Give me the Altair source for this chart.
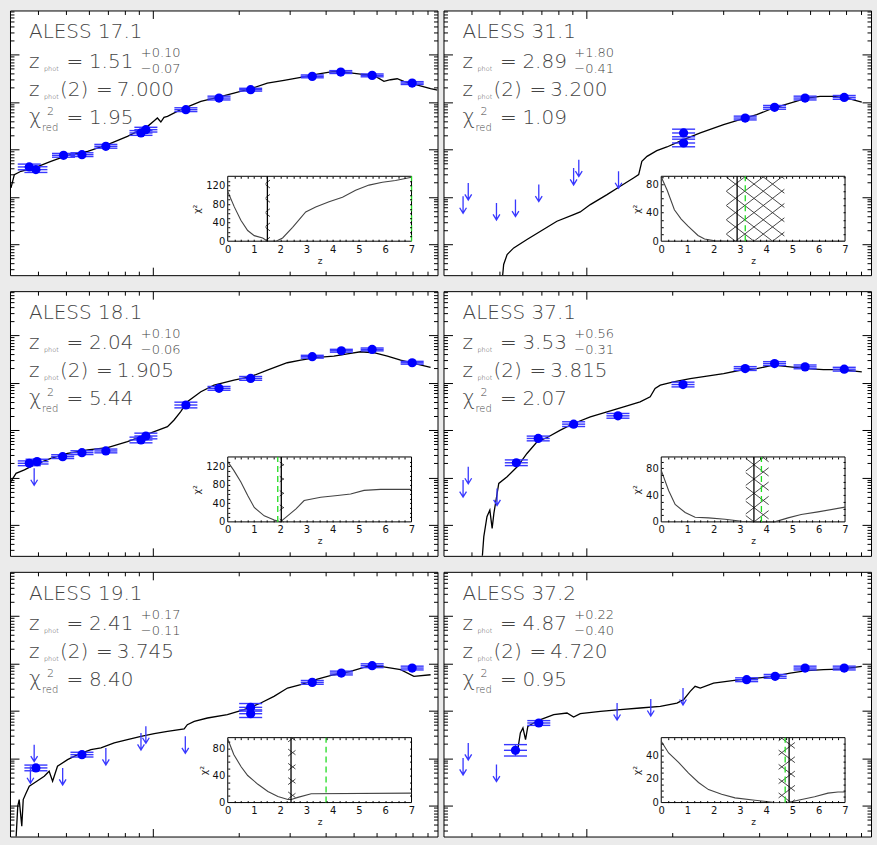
import altair as alt
import numpy as np
import pandas as pd

# ------------------------------------------------------------------ values
# x: log10(observed wavelength / micron), y: log10(flux density / microJy)
names = ["ALESS 17.1", "ALESS 31.1", "ALESS 18.1", "ALESS 37.1", "ALESS 19.1", "ALESS 37.2"]
zphot = [1.51, 2.89, 2.04, 3.53, 2.41, 4.87]
zphot_hi = [0.10, 1.80, 0.10, 0.56, 0.17, 0.22]
zphot_lo = [0.07, 0.41, 0.06, 0.31, 0.11, 0.40]
zphot2 = [7.000, 3.200, 1.905, 3.815, 3.745, 4.720]
chi2_red = [1.95, 1.09, 5.44, 2.07, 8.40, 0.95]
chi2_max = [140, 91, 140, 97, 96, 55]
chi2_ticks = [[0, 40, 80, 120], [0, 40, 80], [0, 40, 80, 120], [0, 40, 80], [0, 40, 80], [0, 20, 40]]

# ---- ALESS 17.1
det_lam_17_1 = [-0.428, -0.405, -0.309, -0.245, -0.162, -0.040, -0.023, 0.116, 0.231, 0.341, 0.555, 0.654, 0.763, 0.902]
det_flux_17_1 = [-0.368, -0.424, -0.123, -0.109, 0.067, 0.348, 0.418, 0.839, 1.084, 1.260, 1.541, 1.632, 1.562, 1.400]
det_err_17_1 = [0.06, 0.06, 0.04, 0.04, 0.04, 0.05, 0.05, 0.04, 0.04, 0.03, 0.03, 0.03, 0.03, 0.03]
lim_lam_17_1 = []
lim_flux_17_1 = []
sed_lam_17_1 = [-0.4915, -0.480, -0.457, -0.410, -0.353, -0.295, -0.225, -0.156, -0.087, -0.040, -0.017, 0.006, 0.017, 0.029,
                0.040, 0.052, 0.098, 0.168, 0.226, 0.283, 0.341, 0.399, 0.457, 0.515, 0.573, 0.630, 0.665, 0.723, 0.769,
                0.804, 0.827, 0.850, 0.873, 0.908, 0.966, 0.99]
sed_flux_17_1 = [-0.810, -0.530, -0.459, -0.389, -0.249, -0.123, -0.038, 0.102, 0.277, 0.418, 0.488, 0.607, 0.663, 0.579,
                 0.677, 0.698, 0.839, 1.014, 1.098, 1.190, 1.281, 1.400, 1.456, 1.520, 1.590, 1.646, 1.632, 1.590, 1.562,
                 1.435, 1.470, 1.491, 1.435, 1.379, 1.281, 1.250]
chi_z_17_1 = [0, 0.25, 0.5, 0.76, 1.01, 1.33, 1.52, 1.84, 2.09, 2.47, 2.97, 3.35, 3.86, 4.37, 4.87, 5.38, 5.89, 6.39, 7.0]
chi_v_17_1 = [107, 74, 45, 23, 12, 7, 0, 0, 7, 30, 63, 74, 85, 95, 110, 121, 127, 131, 138]

# ---- ALESS 31.1
det_lam_31_1 = [0.339, 0.339, 0.553, 0.655, 0.761, 0.897]
det_flux_31_1 = [0.348, 0.137, 0.663, 0.888, 1.084, 1.098]
det_err_31_1 = [0.08, 0.08, 0.04, 0.04, 0.04, 0.04]
lim_lam_31_1 = [-0.427, -0.409, -0.311, -0.245, -0.164, -0.043, -0.025, 0.113]
lim_flux_31_1 = [-0.986, -0.705, -1.126, -1.056, -0.740, -0.389, -0.214, -0.459]
sed_lam_31_1 = [-0.291, -0.286, -0.274, -0.251, -0.205, -0.158, -0.101, -0.043, -0.020, 0.015, 0.073, 0.119, 0.165,
                0.183, 0.194, 0.212, 0.246, 0.281, 0.339, 0.397, 0.478, 0.535, 0.593, 0.651, 0.709, 0.767, 0.813,
                0.859, 0.906, 0.958]
sed_flux_31_1 = [-2.75, -2.424, -2.214, -2.074, -1.898, -1.723, -1.512, -1.372, -1.316, -1.161, -0.951, -0.775, -0.600,
                 -0.530, -0.249, -0.144, -0.024, 0.053, 0.207, 0.348, 0.523, 0.628, 0.733, 0.874, 0.979, 1.084, 1.119,
                 1.119, 1.084, 1.000]
chi_z_31_1 = [0, 0.23, 0.5, 0.76, 1.02, 1.4, 1.65, 2.04, 2.5, 3.0, 4.0, 5.0, 6.0, 7.0]
chi_v_31_1 = [90, 71, 44, 31, 21, 8, 3, 0.5, 0, 0, 0, 0, 0, 0]

# ---- ALESS 18.1
det_lam_18_1 = [-0.428, -0.401, -0.312, -0.245, -0.162, -0.040, -0.023, 0.116, 0.231, 0.341, 0.555, 0.656, 0.763, 0.902]
det_flux_18_1 = [-0.698, -0.663, -0.558, -0.474, -0.438, -0.207, -0.123, 0.530, 0.881, 1.091, 1.548, 1.674, 1.702, 1.421]
det_err_18_1 = [0.05, 0.05, 0.04, 0.04, 0.04, 0.06, 0.06, 0.06, 0.04, 0.04, 0.03, 0.03, 0.03, 0.03]
lim_lam_18_1 = [-0.411]
lim_flux_18_1 = [-0.803]
sed_lam_18_1 = [-0.492, -0.474, -0.445, -0.411, -0.353, -0.295, -0.225, -0.156, -0.087, -0.040, 0.006, 0.052, 0.075,
                0.098, 0.121, 0.168, 0.214, 0.283, 0.341, 0.399, 0.468, 0.515, 0.573, 0.630, 0.688, 0.723, 0.769,
                0.816, 0.862, 0.908, 0.966]
sed_flux_18_1 = [-1.084, -0.909, -0.838, -0.733, -0.593, -0.488, -0.417, -0.368, -0.242, -0.137, -0.031, 0.074, 0.214,
                 0.390, 0.600, 0.811, 0.951, 1.056, 1.127, 1.267, 1.421, 1.477, 1.534, 1.562, 1.618, 1.653, 1.632,
                 1.562, 1.477, 1.407, 1.323]
chi_z_18_1 = [0, 0.23, 0.5, 0.76, 1.01, 1.39, 1.77, 2.0, 2.28, 2.6, 2.91, 3.54, 4.18, 4.68, 5.19, 5.82, 7.0]
chi_v_18_1 = [130, 111, 86, 57, 31, 13, 4, 0, 13, 28, 46, 53, 57, 60, 68, 70, 70]

# ---- ALESS 37.1
det_lam_37_1 = [-0.242, -0.166, -0.043, 0.111, 0.337, 0.553, 0.655, 0.761, 0.897]
det_flux_37_1 = [-0.687, -0.175, 0.127, 0.302, 0.962, 1.299, 1.404, 1.334, 1.285]
det_err_37_1 = [0.06, 0.05, 0.05, 0.05, 0.05, 0.04, 0.04, 0.04, 0.04]
lim_lam_37_1 = [-0.427, -0.409, -0.309]
lim_flux_37_1 = [-1.052, -0.772, -1.228]
sed_lam_37_1 = [-0.361, -0.355, -0.344, -0.334, -0.326, -0.320, -0.303, -0.274, -0.239, -0.205, -0.170, -0.135, -0.089,
                -0.043, 0.015, 0.073, 0.131, 0.188, 0.223, 0.240, 0.258, 0.304, 0.362, 0.420, 0.478, 0.535, 0.593,
                0.651, 0.709, 0.767, 0.825, 0.882, 0.958]
sed_flux_37_1 = [-2.737, -2.245, -1.824, -1.684, -2.070, -1.754, -1.123, -0.982, -0.772, -0.491, -0.245, -0.154, 0.000,
                 0.141, 0.281, 0.386, 0.492, 0.597, 0.702, 0.878, 0.948, 1.018, 1.088, 1.137, 1.193, 1.263, 1.299,
                 1.369, 1.334, 1.299, 1.277, 1.277, 1.228]
chi_z_37_1 = [0, 0.28, 0.53, 0.91, 1.29, 1.8, 2.43, 3.06, 3.56, 4.32, 4.83, 5.33, 5.97, 7.0]
chi_v_37_1 = [77, 47, 26, 14, 7, 6, 4, 1, 0, 0, 6, 11, 15, 22]

# ---- ALESS 19.1
det_lam_19_1 = [-0.405, -0.245, 0.341, 0.341, 0.555, 0.656, 0.763, 0.902]
det_flux_19_1 = [-1.203, -0.923, 0.074, -0.060, 0.600, 0.797, 0.951, 0.902]
det_err_19_1 = [0.06, 0.05, 0.08, 0.08, 0.04, 0.04, 0.04, 0.04]
lim_lam_19_1 = [-0.424, -0.411, -0.312, -0.162, -0.040, -0.023, 0.114]
lim_flux_19_1 = [-1.168, -0.712, -1.203, -0.782, -0.467, -0.326, -0.537]
sed_lam_19_1 = [-0.474, -0.468, -0.463, -0.454, -0.449, -0.439, -0.428, -0.411, -0.376, -0.359, -0.347, -0.330, -0.295,
                -0.260, -0.214, -0.179, -0.133, -0.087, -0.040, 0.006, 0.052, 0.110, 0.121, 0.145, 0.191, 0.260,
                0.318, 0.376, 0.422, 0.469, 0.515, 0.573, 0.630, 0.688, 0.746, 0.792, 0.862, 0.908, 0.966]
sed_flux_19_1 = [-2.70, -2.010, -1.870, -2.431, -1.870, -1.730, -1.589, -1.519, -1.379, -1.273, -1.484, -1.168, -1.028,
                 -0.923, -0.818, -0.782, -0.677, -0.607, -0.537, -0.481, -0.431, -0.382, -0.291, -0.221, -0.151,
                 -0.081, 0.025, 0.165, 0.305, 0.481, 0.551, 0.670, 0.761, 0.832, 0.937, 0.937, 0.867, 0.726, 0.761]
chi_z_19_1 = [0, 0.23, 0.51, 0.76, 1.15, 1.53, 1.91, 2.29, 2.42, 2.67, 3.18, 7.0]
chi_v_19_1 = [94, 71, 53, 40, 27, 16.5, 9, 4.6, 4.6, 7.7, 13, 14]

# ---- ALESS 37.2
det_lam_37_2 = [-0.245, -0.164, 0.558, 0.657, 0.761, 0.897]
det_flux_37_2 = [-0.832, -0.256, 0.656, 0.727, 0.902, 0.902]
det_err_37_2 = [0.12, 0.05, 0.04, 0.04, 0.04, 0.04]
lim_lam_37_2 = [-0.427, -0.409, -0.311, 0.108, 0.225, 0.337]
lim_flux_37_2 = [-0.993, -0.677, -1.133, 0.165, 0.249, 0.481]
sed_lam_37_2 = [-0.236, -0.228, -0.219, -0.210, -0.202, -0.182, -0.158, -0.112, -0.066, -0.043, -0.020, 0.050, 0.119,
                0.188, 0.258, 0.316, 0.339, 0.362, 0.379, 0.397, 0.443, 0.489, 0.535, 0.593, 0.651, 0.709, 0.767,
                0.825, 0.882, 0.958]
sed_flux_37_2 = [-0.782, -0.467, -0.361, -0.607, -0.326, -0.256, -0.186, -0.081, -0.046, -0.130, -0.060, -0.011, 0.025,
                 0.060, 0.095, 0.165, 0.235, 0.411, 0.516, 0.481, 0.586, 0.621, 0.656, 0.691, 0.726, 0.797, 0.846,
                 0.867, 0.881, 0.937]
chi_z_37_2 = [0, 0.28, 0.66, 1.04, 1.42, 1.8, 2.3, 2.81, 3.57, 4.32, 4.83, 5.21, 5.84, 6.35, 6.73, 7.0]
chi_v_37_2 = [52, 42, 34, 25, 17, 11, 7, 4, 2, 0, 0, 2, 5, 8, 9, 9]

panels = [
    dict(det_lam=det_lam_17_1, det_flux=det_flux_17_1, det_err=det_err_17_1, lim_lam=lim_lam_17_1, lim_flux=lim_flux_17_1,
         sed_lam=sed_lam_17_1, sed_flux=sed_flux_17_1, chi_z=chi_z_17_1, chi_v=chi_v_17_1),
    dict(det_lam=det_lam_31_1, det_flux=det_flux_31_1, det_err=det_err_31_1, lim_lam=lim_lam_31_1, lim_flux=lim_flux_31_1,
         sed_lam=sed_lam_31_1, sed_flux=sed_flux_31_1, chi_z=chi_z_31_1, chi_v=chi_v_31_1),
    dict(det_lam=det_lam_18_1, det_flux=det_flux_18_1, det_err=det_err_18_1, lim_lam=lim_lam_18_1, lim_flux=lim_flux_18_1,
         sed_lam=sed_lam_18_1, sed_flux=sed_flux_18_1, chi_z=chi_z_18_1, chi_v=chi_v_18_1),
    dict(det_lam=det_lam_37_1, det_flux=det_flux_37_1, det_err=det_err_37_1, lim_lam=lim_lam_37_1, lim_flux=lim_flux_37_1,
         sed_lam=sed_lam_37_1, sed_flux=sed_flux_37_1, chi_z=chi_z_37_1, chi_v=chi_v_37_1),
    dict(det_lam=det_lam_19_1, det_flux=det_flux_19_1, det_err=det_err_19_1, lim_lam=lim_lam_19_1, lim_flux=lim_flux_19_1,
         sed_lam=sed_lam_19_1, sed_flux=sed_flux_19_1, chi_z=chi_z_19_1, chi_v=chi_v_19_1),
    dict(det_lam=det_lam_37_2, det_flux=det_flux_37_2, det_err=det_err_37_2, lim_lam=lim_lam_37_2, lim_flux=lim_flux_37_2,
         sed_lam=sed_lam_37_2, sed_flux=sed_flux_37_2, chi_z=chi_z_37_2, chi_v=chi_v_37_2),
]

# ------------------------------------------------------------------ layout / style
W, H = 428, 265
INSET_X = (218, 402)
INSET_Y = (231, 166)
LAM_DOMAIN = [-0.495, 0.99]
FLUX_DOMAIN = [-2.649, 2.93]
FILTER_HALF = 0.04
BLUE = "#0000ff"
BAR_BLUE = "#3838ff"
TEXT_GRAY = "#444444"
FONT = "DejaVu Sans"
ARROW = "M0,0L0,2M-0.4,1.35L0,2L0.4,1.35"

x_major = [0.0]
x_minor = [float(np.log10(v)) for v in [0.4, 0.5, 0.6, 0.7, 0.8, 0.9, 2, 3, 4, 5, 6, 7, 8, 9]]
y_major = [-2.0, -1.0, 0.0, 1.0, 2.0]
y_minor = [float(n + np.log10(k)) for n in range(-3, 3) for k in range(2, 10)
           if FLUX_DOMAIN[0] < n + np.log10(k) < FLUX_DOMAIN[1]]


def tick_axis(orient, offset, values, size):
    return alt.Axis(orient=orient, offset=offset, values=values, tickSize=size, ticks=True,
                    labels=False, domain=False, grid=False, title=None, tickColor="black",
                    tickWidth=1, zindex=1)


def main_layer(p):
    xs = alt.Scale(domain=LAM_DOMAIN, nice=False, zero=False)
    ys = alt.Scale(domain=FLUX_DOMAIN, nice=False, zero=False)
    sed = alt.Chart(pd.DataFrame({"l": p["sed_lam"], "f": p["sed_flux"]})).mark_line(
        color="black", strokeWidth=1.3, clip=True).encode(
        x=alt.X("l:Q", scale=xs, axis=tick_axis("top", -H, x_major, 8)),
        y=alt.Y("f:Q", scale=ys, axis=tick_axis("right", -W, y_major, 9)))
    det = pd.DataFrame({"l": p["det_lam"], "f": p["det_flux"], "e": p["det_err"]})
    rows = []
    for l, f, e in zip(p["det_lam"], p["det_flux"], p["det_err"]):
        for yy in (f, f + e, f - e):
            rows.append({"l1": l - FILTER_HALF, "l2": l + FILTER_HALF, "f": yy})
    hb = pd.DataFrame(rows)
    hbars = alt.Chart(hb).mark_rule(color=BAR_BLUE, strokeWidth=1.4).encode(
        x=alt.X("l1:Q", scale=xs, axis=tick_axis("top", -H, x_minor, 4)), x2="l2:Q",
        y=alt.Y("f:Q", scale=ys, axis=tick_axis("right", -W, y_minor, 4)))
    vbars = alt.Chart(det).transform_calculate(lo="datum.f - datum.e", hi="datum.f + datum.e").mark_rule(
        color=BAR_BLUE, strokeWidth=1.2).encode(
        x=alt.X("l:Q", scale=xs, axis=tick_axis("bottom", -H, x_minor, 4)),
        y=alt.Y("lo:Q", scale=ys, axis=tick_axis("left", -W, y_minor, 4)), y2="hi:Q")
    pts = alt.Chart(det).mark_circle(color=BLUE, size=85, opacity=1).encode(
        x=alt.X("l:Q", scale=xs, axis=tick_axis("bottom", -H, x_major, 8)),
        y=alt.Y("f:Q", scale=ys, axis=tick_axis("left", -W, y_major, 9)))
    layers = [sed, hbars, vbars, pts]
    if p["lim_lam"]:
        arr = alt.Chart(pd.DataFrame({"l": p["lim_lam"], "f": p["lim_flux"]})).mark_point(
            shape=ARROW, size=289, filled=False, color=BAR_BLUE, strokeWidth=1.3, opacity=1).encode(
            x=alt.X("l:Q", scale=xs, axis=None), y=alt.Y("f:Q", scale=ys, axis=None))
        layers.append(arr)
    return alt.layer(*layers).resolve_axis(x="independent", y="independent")


def hatch_segments(zl, zh, ymax):
    sx = (INSET_X[1] - INSET_X[0]) / 7.0
    sy = (INSET_Y[0] - INSET_Y[1]) / ymax
    p1, p2 = zl * sx, zh * sx
    hmax = INSET_Y[0] - INSET_Y[1]
    D, s = 14.3, 0.77
    segs = []
    for sign in (1, -1):
        for k in range(-80, 80):
            c = k * D
            pa = (0 - c) / (sign * s)
            pb = (hmax - c) / (sign * s)
            lo, hi = max(p1, min(pa, pb)), min(p2, max(pa, pb))
            if hi - lo > 0.2:
                segs.append({"z1": lo / sx, "z2": hi / sx,
                             "c1": (sign * s * lo + c) / sy, "c2": (sign * s * hi + c) / sy})
    return pd.DataFrame(segs)


def inset_layer(i, p):
    ymax = chi2_max[i]
    xs = alt.Scale(domain=[0, 7], range=[INSET_X[0], INSET_X[1]], nice=False, zero=False)
    ys = alt.Scale(domain=[0, ymax], range=[INSET_Y[0], INSET_Y[1]], nice=False, zero=False)
    ystep = 5 if ymax < 80 else 10
    x_in = [round(v * 0.25, 2) for v in range(1, 28)]
    y_in = [v for v in range(ystep, ymax, ystep)]
    lab_x = alt.Axis(orient="bottom", offset=INSET_Y[0] - H, values=list(range(8)), ticks=False, domain=False,
                     grid=False, labelPadding=3, labelFontSize=10, labelColor="#111", labelFont=FONT,
                     labelFlush=False, labelOverlap=False, title="z", titleFontSize=9, titleFont=FONT,
                     titleFontWeight="normal", titleColor="#222", titlePadding=2, zindex=1)
    lab_y = alt.Axis(orient="left", offset=-INSET_X[0], values=chi2_ticks[i], ticks=False, domain=False,
                     grid=False, labelPadding=3, labelFontSize=10, labelColor="#111", labelFont=FONT,
                     labelFlush=False, labelOverlap=False, title="χ²", titleFontSize=9.5, titleFont=FONT,
                     titleFontWeight="normal", titleColor="#222", titlePadding=4, zindex=1)
    frame_df = pd.DataFrame({"x0": [0], "x1": [7], "y0": [0], "y1": [ymax]})
    frame = alt.Chart(frame_df).mark_rect(fill="white", stroke="black", strokeWidth=1).encode(
        x=alt.X("x0:Q", scale=xs, axis=lab_x), x2="x1:Q",
        y=alt.Y("y0:Q", scale=ys, axis=lab_y), y2="y1:Q")
    hatch = alt.Chart(hatch_segments(zphot[i] - zphot_lo[i], zphot[i] + zphot_hi[i], ymax)).mark_rule(
        color="#333333", strokeWidth=0.9).encode(
        x=alt.X("z1:Q", scale=xs, axis=tick_axis("top", -INSET_Y[0], x_in, 2)), x2="z2:Q",
        y=alt.Y("c1:Q", scale=ys, axis=tick_axis("right", INSET_X[0] - W, y_in, 2)), y2="c2:Q")
    curve = alt.Chart(pd.DataFrame({"z": p["chi_z"], "c": p["chi_v"]})).mark_line(
        color="#444444", strokeWidth=1.1).encode(
        x=alt.X("z:Q", scale=xs, axis=tick_axis("bottom", INSET_Y[1] - H, x_in, 2)),
        y=alt.Y("c:Q", scale=ys, axis=tick_axis("left", -INSET_X[1], y_in, 2)))
    best = alt.Chart(pd.DataFrame({"z": [zphot[i]], "a": [0], "b": [ymax]})).mark_rule(
        color="black", strokeWidth=1.3).encode(
        x=alt.X("z:Q", scale=xs, axis=None), y=alt.Y("a:Q", scale=ys, axis=None), y2="b:Q")
    second = alt.Chart(pd.DataFrame({"z": [zphot2[i]], "a": [0], "b": [ymax]})).mark_rule(
        color="#22dd22", strokeWidth=1.3, strokeDash=[6, 4]).encode(
        x=alt.X("z:Q", scale=xs, axis=None), y=alt.Y("a:Q", scale=ys, axis=None), y2="b:Q")
    return alt.layer(frame, hatch, curve, best, second).resolve_axis(x="independent", y="independent")


def text_layer(i):
    big = 20
    rows = [
        (names[i], 19, 28, big),
        ("z", 19, 58, big), ("phot", 34, 61, 6.5), ("=", 56.5, 58, big), (f"{zphot[i]:.2f}", 79, 58, big),
        (f"+{zphot_hi[i]:.2f}", 131, 47, 13), (f"\u2212{zphot_lo[i]:.2f}", 131, 63, 13),
        ("z", 19, 86, big), ("phot", 34, 89, 6.5), ("(2)", 50, 86, big), ("=", 86, 86, big),
        (f"{zphot2[i]:.3f}", 107, 86, big),
        ("χ", 19, 114, 21), ("2", 37, 105, 11), ("red", 32, 121, 10), ("=", 56.5, 114, big),
        (f"{chi2_red[i]:.2f}", 79, 114, big),
    ]
    df = pd.DataFrame(rows, columns=["t", "px", "py", "fs"])
    return alt.Chart(df).mark_text(align="left", baseline="alphabetic", font=FONT, color=TEXT_GRAY,
                                   fontWeight=300).encode(
        x=alt.X("px:Q", scale=None, axis=None), y=alt.Y("py:Q", scale=None, axis=None),
        text="t:N", size=alt.Size("fs:Q", scale=None, legend=None))


def panel(i):
    p = panels[i]
    return alt.layer(main_layer(p), inset_layer(i, p), text_layer(i)).resolve_scale(
        x="independent", y="independent").resolve_axis(x="independent", y="independent").properties(
        width=W, height=H)


rows = [alt.hconcat(panel(2 * r), panel(2 * r + 1), spacing=6, bounds="flush") for r in range(3)]
chart = alt.vconcat(*rows, spacing=14).properties(
    padding={"left": 9, "top": 9, "right": 5, "bottom": 8}, background="#ebebeb").configure_view(
    stroke="black", strokeWidth=1, fill="white")

chart.save("out.html", embed_options={"renderer": "svg", "actions": False})
